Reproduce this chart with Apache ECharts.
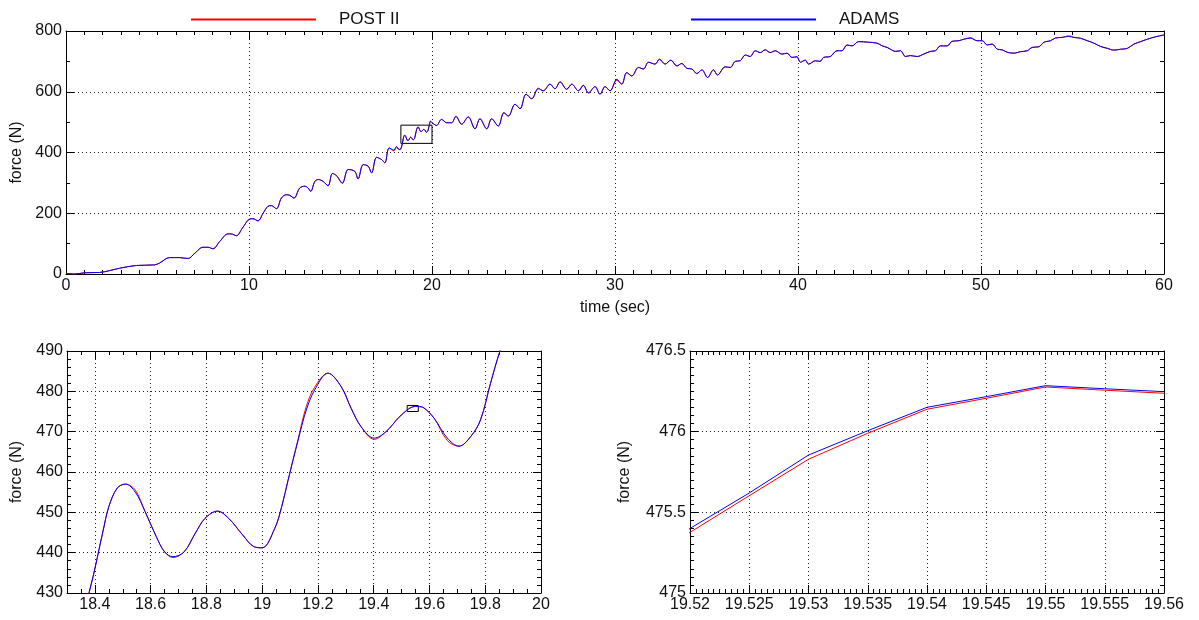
<!DOCTYPE html>
<html>
<head>
<meta charset="utf-8">
<script src="https://cdn.jsdelivr.net/npm/echarts@6/dist/echarts.min.js"></script>
<style>html,body{margin:0;padding:0;background:#fff}#c{width:1199px;height:620px}</style>
</head>
<body>
<div id="c"></div>
<script>
// ---------- DATA ----------
const seriesNames = ['POST II', 'ADAMS'];

// Part A: 0 .. 18.2 s
const timeA = [0, 0.5, 1, 1.83, 2.38, 2.93, 3.84, 4.84, 5.11, 5.66,
  6.2, 6.67, 7.03, 7.49, 7.76, 8.03, 8.4, 8.85, 9.03, 9.31,
  9.64, 10.04, 10.22, 10.49, 10.77, 11.04, 11.22, 11.5, 11.77, 12.05,
  12.23, 12.46, 12.77, 13.05, 13.23, 13.37, 13.6, 13.78, 14.05, 14.32,
  14.56, 14.78, 15.1, 15.42, 15.78, 15.96, 16.24, 16.51, 16.7, 16.97,
  17.24, 17.42, 17.66, 17.92, 18.06, 18.2];
const adamsA = [2, 0, 4, 5, 11, 19, 28, 30, 36, 54,
  54, 51, 68, 88, 88, 83, 107, 132, 132, 126,
  151, 181, 182, 175, 200, 223, 225, 215, 250, 261,
  259, 250, 283, 289, 283, 272, 305, 311, 305, 291,
  331, 324, 300, 344, 338, 313, 360, 355, 333, 384,
  377, 366, 415, 408, 419, 410];
const postA = [2, 0, 4, 5, 11, 19, 28, 30, 36, 54,
  54, 51, 68, 88, 88, 83, 107, 132, 132, 126,
  151, 181, 182, 175, 200, 223, 225, 215, 250, 261,
  259, 250, 283, 289, 283, 272, 305, 311, 305, 290,
  331, 324, 298, 344, 338, 313, 360, 355, 333, 384,
  377, 366, 415, 405, 419, 410];

// Part D: 18.3 .. 19.97 s (detail)
const timeD = [18.3, 18.38, 18.43, 18.45, 18.48, 18.51, 18.545, 18.58, 18.62, 18.65,
  18.68, 18.72, 18.76, 18.795, 18.84, 18.88, 18.93, 18.97, 19.0, 19.045,
  19.07, 19.093, 19.129, 19.158, 19.188, 19.236, 19.283, 19.319, 19.355, 19.402,
  19.444, 19.491, 19.52, 19.525, 19.53, 19.535, 19.54, 19.545, 19.55, 19.555,
  19.56, 19.58, 19.617, 19.664, 19.706, 19.748, 19.783, 19.819, 19.852, 19.92,
  19.97];
const adamsD = [412, 430.3, 445.6, 451.4, 456, 457, 455, 450.2, 444, 440.2,
  439, 440.2, 444.8, 448.5, 450.3, 448.5, 444.4, 441.5, 441.2, 446,
  451.4, 458, 467.9, 475.3, 480.3, 484.5, 481.2, 475.8, 471.2, 468.4,
  470, 473.6, 475.40, 475.62, 475.855, 476.006, 476.151, 476.217, 476.285, 476.266,
  476.248, 475.9, 473.3, 468.4, 466.4, 468.8, 472.9, 482, 489.8, 503,
  500];
const postD = [412, 430.3, 445.6, 451.4, 456, 457, 455.5, 450.2, 444, 440.2,
  438.8, 440.2, 444.8, 448.5, 450.3, 448.5, 444.4, 441.5, 441.2, 446,
  451.4, 458, 468.2, 476.2, 481, 484.5, 481.2, 475.8, 471.2, 468.1,
  470, 473.6, 475.376, 475.603, 475.829, 475.99, 476.139, 476.207, 476.277, 476.257,
  476.238, 475.9, 473.3, 467.8, 466.4, 468.8, 472.9, 482, 489.8, 503,
  500];

// Part B: 20.25 .. 60 s
const timeB = [20.25, 20.52, 20.8, 21.07, 21.31, 21.62, 21.98, 22.35, 22.62, 22.99,
  23.26, 23.62, 23.93, 24.17, 24.54, 24.81, 25.14, 25.45, 25.81, 26.08,
  26.45, 26.72, 27.0, 27.36, 27.64, 28.0, 28.27, 28.55, 28.91, 29.18,
  29.46, 29.73, 30.1, 30.37, 30.64, 30.92, 31.28, 31.55, 31.83, 32.19,
  32.43, 32.74, 33.05, 33.38, 33.65, 33.93, 34.2, 34.47, 34.75, 35.06,
  35.38, 35.6, 36.02, 36.3, 36.57, 36.84, 37.12, 37.39, 37.66, 37.94,
  38.21, 38.48, 38.76, 39.12, 39.4, 39.67, 39.94, 40.13, 40.4, 40.58,
  40.95, 41.2, 41.4, 41.77, 42.13, 42.4, 42.68, 42.95, 43.31, 43.86,
  44.32, 44.6, 44.87, 45.05, 45.32, 45.6, 45.87, 46.14, 46.51, 46.87,
  47.24, 47.51, 47.78, 48.15, 48.42, 48.79, 49.06, 49.43, 49.79, 50.07,
  50.34, 50.61, 50.89, 51.16, 51.43, 51.8, 52.16, 52.53, 52.8, 53.16,
  53.44, 53.8, 54.07, 54.44, 54.8, 55.08, 55.44, 55.81, 56.17, 56.54,
  56.9, 57.26, 57.63, 58.0, 58.36, 58.72, 59.09, 59.55, 60];
const adamsB = [489, 509, 498, 498, 518, 493, 517, 478, 511, 478,
  511, 487, 531, 520, 559, 544, 592, 577, 610, 603,
  625, 610, 632, 608, 625, 603, 621, 597, 617, 592,
  617, 603, 641, 625, 663, 652, 680, 675, 697, 691,
  707, 691, 704, 685, 693, 677, 675, 660, 672, 647,
  672, 655, 682, 680, 700, 702, 721, 716, 735, 729,
  738, 729, 735, 724, 727, 713, 716, 697, 704, 691,
  702, 700, 713, 716, 735, 735, 754, 751, 765, 763,
  760, 751, 746, 740, 733, 735, 716, 719, 716, 724,
  733, 735, 751, 751, 766, 768, 773, 776, 768, 768,
  754, 757, 740, 738, 730, 727, 732, 735, 746, 748,
  763, 768, 777, 779, 782, 779, 776, 768, 760, 749,
  743, 737, 740, 743, 757, 765, 773, 781, 787];
const postB = [489, 509, 498, 498, 520, 493, 517, 478, 511, 478,
  511, 487, 531, 520, 559, 544, 592, 577, 612, 603,
  625, 610, 633, 608, 625, 603, 621, 595, 617, 592,
  617, 603, 638, 625, 663, 652, 680, 675, 697, 691,
  707, 691, 704, 685, 693, 677, 675, 660, 672, 647,
  672, 655, 682, 680, 700, 702, 721, 716, 735, 729,
  738, 729, 735, 724, 727, 713, 714, 697, 704, 691,
  702, 700, 713, 716, 735, 735, 754, 751, 765, 763,
  760, 751, 746, 740, 733, 735, 716, 719, 716, 724,
  733, 735, 751, 751, 766, 768, 773, 778, 768, 768,
  754, 757, 740, 738, 730, 727, 732, 735, 746, 748,
  763, 768, 777, 779, 784, 779, 776, 768, 760, 749,
  743, 737, 740, 743, 757, 765, 773, 781, 787];

// Axis ranges per panel: [min, max, interval]
const panelXRange = [[0, 60, 10], [18.3, 20, null], [19.52, 19.56, 0.005]];
const panelYRange = [[0, 800, 200], [430, 490, 10], [475, 476.5, 0.5]];
const xAxisTitle = 'time (sec)';
const yAxisTitle = 'force (N)';

// ---------- CHART ----------
const FONT = '"Liberation Sans", Arial, Helvetica, sans-serif';
const TXT = '#111';
const zip = (t, v) => t.map((x, i) => [x, v[i]]);
const topTime = timeA.concat(timeD, timeB);
const topAdams = adamsA.concat(adamsD, adamsB);
const topPost = postA.concat(postD, postB);

const grids = [
  {left: 66, top: 31, width: 1098, height: 243},
  {left: 67, top: 351, width: 474, height: 242},
  {left: 690, top: 351, width: 474, height: 242}
].map(g => Object.assign(g, {outerBoundsMode: 'none', containLabel: false}));

const xMinor = [10, 4, 10];
const yMinor = [2, 5, 10];
const yNameGap = [41, 42, 57];
const panelSmooth = [0.35, 0.35, false];

function mkX(i, pos, primary) {
  const r = panelXRange[i];
  const a = {
    type: 'value', gridIndex: i, position: pos, min: r[0], max: r[1],
    axisLine: {show: true, onZero: false, lineStyle: {color: '#000', width: 1}},
    axisTick: {show: true, inside: true, length: 8, lineStyle: {color: '#000'}},
    minorTick: {show: true, splitNumber: xMinor[i], length: 4, lineStyle: {color: '#000'}},
    axisLabel: {show: primary, margin: 4, color: TXT, fontSize: 16, fontFamily: FONT, showMinLabel: i !== 1},
    splitLine: {show: primary, lineStyle: {color: '#222', type: [1, 3], width: 1}},
    minorSplitLine: {show: false}
  };
  if (r[2] != null) a.interval = r[2]; else a.splitNumber = 8;
  if (primary && i === 0) {
    a.name = xAxisTitle; a.nameLocation = 'middle'; a.nameGap = 26;
    a.nameTextStyle = {color: TXT, fontSize: 16, fontFamily: FONT};
  }
  return a;
}
function mkY(i, pos, primary) {
  const r = panelYRange[i];
  const a = {
    type: 'value', gridIndex: i, position: pos, min: r[0], max: r[1], interval: r[2],
    axisLine: {show: true, onZero: false, lineStyle: {color: '#000', width: 1}},
    axisTick: {show: true, inside: true, length: 8, lineStyle: {color: '#000'}},
    minorTick: {show: true, splitNumber: yMinor[i], length: 4, lineStyle: {color: '#000'}},
    axisLabel: {show: primary, margin: 4, color: TXT, fontSize: 16, fontFamily: FONT},
    splitLine: {show: primary, lineStyle: {color: '#222', type: [1, 3], width: 1}},
    minorSplitLine: {show: false}
  };
  if (primary) {
    a.name = yAxisTitle; a.nameLocation = 'middle'; a.nameGap = yNameGap[i]; a.nameRotate = 90;
    a.nameTextStyle = {color: TXT, fontSize: 16, fontFamily: FONT};
  }
  return a;
}

const xAxes = [0, 1, 2].map(i => mkX(i, 'bottom', true)).concat([0, 1, 2].map(i => mkX(i, 'top', false)));
const yAxes = [0, 1, 2].map(i => mkY(i, 'left', true)).concat([0, 1, 2].map(i => mkY(i, 'right', false)));

const colors = {'POST II': '#ff0000', 'ADAMS': '#0000ff'};
function line(name, gi, data, zoomBox) {
  const s = {
    name: name, type: 'line', xAxisIndex: gi, yAxisIndex: gi, data: data,
    symbol: 'none', showSymbol: false, clip: true, animation: false,
    smooth: panelSmooth[gi],
    color: colors[name], lineStyle: {color: colors[name], width: 1},
    z: name === 'ADAMS' ? 3 : 2
  };
  if (zoomBox) {
    const xr = panelXRange[zoomBox], yr = panelYRange[zoomBox];
    s.markArea = {
      silent: true, label: {show: false},
      itemStyle: {color: 'rgba(0,0,0,0)', borderColor: '#000', borderWidth: 1},
      data: [[{coord: [xr[0], yr[0]]}, {coord: [xr[1], yr[1]]}]]
    };
  }
  return s;
}

const series = [
  line('POST II', 0, zip(topTime, topPost)),
  line('ADAMS', 0, zip(topTime, topAdams), 1),
  line('POST II', 1, zip(timeD, postD)),
  line('ADAMS', 1, zip(timeD, adamsD), 2),
  line('POST II', 2, zip(timeD, postD)),
  line('ADAMS', 2, zip(timeD, adamsD))
];

const legendBase = {
  icon: 'rect', itemWidth: 125, itemHeight: 2, top: 6, selectedMode: false,
  textStyle: {color: TXT, fontSize: 17, fontFamily: FONT, padding: [0, 0, 0, 18]}
};

const chart = echarts.init(document.getElementById('c'), null, {renderer: 'canvas'});
chart.setOption({
  animation: false,
  backgroundColor: '#fff',
  textStyle: {fontFamily: FONT},
  legend: [
    Object.assign({}, legendBase, {data: [seriesNames[0]], left: 186}),
    Object.assign({}, legendBase, {data: [seriesNames[1]], left: 686})
  ],
  grid: grids,
  xAxis: xAxes,
  yAxis: yAxes,
  series: series
});
</script>
</body>
</html>
